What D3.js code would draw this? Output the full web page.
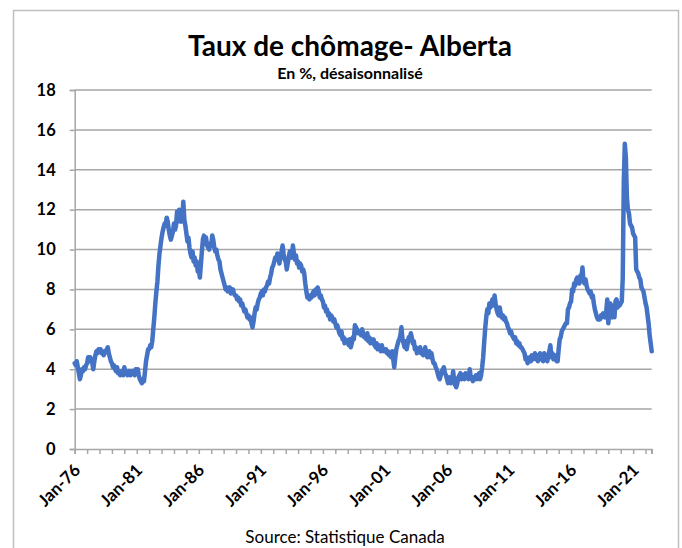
<!DOCTYPE html>
<html lang="fr">
<head>
<meta charset="utf-8">
<title>Taux de chômage- Alberta</title>
<script src="https://cdn.jsdelivr.net/npm/d3@7"></script>
<style>
  html, body { margin: 0; padding: 0; background: #fff; }
  svg { display: block; font-family: Lato, 'Open Sans', sans-serif; }
</style>
</head>
<body>
<div id="chart"></div>
<script>
// ── Data: Alberta unemployment rate, %, seasonally adjusted (monthly) ──
const START_YEAR = 1976;
const rate1976 = [4.3, 4.2, 4.4, 4.1, 3.8, 3.5, 3.7, 4.0, 3.9, 4.1, 4.0, 4.2];
const rate1977 = [4.3, 4.6, 4.4, 4.6, 4.5, 4.3, 4.0, 4.4, 4.7, 4.9, 4.8, 5.0];
const rate1978 = [4.9, 5.0, 4.8, 4.9, 4.7, 4.8, 4.9, 5.0, 5.1, 4.8, 4.6, 4.4];
const rate1979 = [4.3, 4.1, 4.2, 4.0, 3.9, 4.1, 3.8, 3.9, 3.7, 3.8, 3.9, 3.7];
const rate1980 = [4.1, 3.8, 3.9, 3.7, 3.8, 3.9, 3.7, 3.8, 3.9, 3.8, 3.7, 4.0];
const rate1981 = [3.8, 4.0, 3.7, 3.5, 3.4, 3.3, 3.5, 3.4, 3.9, 4.4, 4.7, 5.0];
const rate1982 = [5.0, 5.2, 5.1, 5.4, 6.0, 6.6, 7.3, 7.9, 8.4, 9.2, 9.8, 10.2];
const rate1983 = [10.6, 10.9, 11.1, 11.3, 11.2, 11.6, 11.4, 11.0, 10.7, 10.5, 10.7, 10.9];
const rate1984 = [11.3, 11.0, 11.2, 11.9, 11.4, 12.0, 11.6, 11.4, 11.6, 12.4, 11.5, 11.2];
const rate1985 = [10.8, 10.4, 10.6, 10.1, 9.8, 9.6, 9.9, 9.4, 9.6, 9.2, 9.4, 8.9];
const rate1986 = [9.0, 8.6, 9.2, 9.9, 10.5, 10.7, 10.3, 10.6, 10.2, 10.1, 10.0, 10.3];
const rate1987 = [10.2, 10.7, 10.5, 10.1, 9.9, 10.0, 9.7, 9.5, 9.4, 9.0, 8.8, 8.6];
const rate1988 = [8.4, 8.2, 8.0, 8.1, 7.9, 8.0, 8.1, 7.8, 7.9, 8.0, 7.8, 7.7];
const rate1989 = [7.7, 7.5, 7.6, 7.4, 7.5, 7.2, 7.3, 7.1, 6.9, 7.0, 6.8, 6.6];
const rate1990 = [6.7, 6.5, 6.6, 6.3, 6.1, 6.4, 6.8, 7.1, 7.0, 7.3, 7.5, 7.6];
const rate1991 = [7.8, 7.9, 7.7, 8.0, 7.9, 8.1, 8.2, 8.4, 8.3, 8.6, 8.8, 9.1];
const rate1992 = [9.2, 9.4, 9.6, 9.5, 9.8, 9.6, 9.3, 9.7, 9.9, 10.2, 9.8, 9.5];
const rate1993 = [9.4, 9.0, 9.3, 9.6, 9.9, 9.7, 9.6, 10.2, 9.8, 9.5, 9.7, 9.3];
const rate1994 = [9.4, 9.1, 9.3, 9.2, 8.9, 9.0, 8.8, 8.3, 7.9, 7.6, 7.7, 7.5];
const rate1995 = [7.7, 7.6, 7.8, 7.9, 7.7, 8.0, 7.8, 8.1, 7.9, 7.6, 7.7, 7.5];
const rate1996 = [7.4, 7.1, 7.2, 6.9, 7.0, 6.7, 6.8, 6.5, 6.7, 6.6, 6.4, 6.5];
const rate1997 = [6.3, 6.1, 6.2, 6.0, 5.8, 5.7, 5.9, 5.5, 5.6, 5.3, 5.5, 5.4];
const rate1998 = [5.4, 5.2, 5.5, 5.1, 5.3, 5.6, 5.5, 6.2, 6.1, 6.0, 5.8, 5.9];
const rate1999 = [5.9, 5.7, 6.0, 5.8, 5.6, 5.7, 5.5, 5.8, 5.4, 5.6, 5.3, 5.5];
const rate2000 = [5.3, 5.5, 5.2, 5.1, 5.3, 5.0, 5.2, 5.1, 4.9, 5.2, 5.0, 4.9];
const rate2001 = [4.9, 5.0, 4.8, 4.9, 4.7, 4.8, 4.6, 4.9, 4.5, 4.1, 4.6, 5.0];
const rate2002 = [5.2, 5.4, 5.5, 5.7, 6.1, 5.5, 5.3, 5.1, 5.4, 5.0, 5.3, 5.6];
const rate2003 = [5.5, 5.8, 5.6, 5.3, 5.4, 5.0, 5.1, 4.8, 5.0, 4.9, 5.1, 4.8];
const rate2004 = [4.8, 4.7, 4.9, 5.1, 4.8, 4.6, 4.7, 4.9, 4.6, 4.8, 4.5, 4.3];
const rate2005 = [4.3, 4.1, 4.0, 3.8, 3.6, 3.5, 3.7, 3.9, 4.0, 4.1, 3.8, 3.7];
const rate2006 = [3.5, 3.3, 3.6, 3.4, 3.3, 3.5, 3.9, 3.4, 3.2, 3.1, 3.3, 3.6];
const rate2007 = [3.7, 3.8, 3.5, 3.6, 3.7, 3.5, 3.8, 3.6, 3.7, 3.5, 4.0, 3.6];
const rate2008 = [3.6, 3.4, 3.6, 3.5, 3.7, 3.5, 3.6, 3.8, 3.5, 3.7, 4.1, 4.6];
const rate2009 = [5.4, 6.1, 6.6, 7.0, 6.8, 7.3, 7.1, 7.3, 7.5, 7.2, 7.7, 7.3];
const rate2010 = [7.0, 6.8, 6.7, 7.1, 6.8, 6.6, 6.7, 6.5, 6.6, 6.4, 6.3, 6.1];
const rate2011 = [6.0, 5.8, 5.9, 5.7, 5.6, 5.5, 5.6, 5.3, 5.4, 5.2, 5.3, 5.1];
const rate2012 = [5.1, 5.0, 4.9, 4.8, 4.5, 4.6, 4.3, 4.5, 4.6, 4.4, 4.7, 4.5];
const rate2013 = [4.6, 4.8, 4.5, 4.7, 4.4, 4.6, 4.8, 4.5, 4.7, 4.4, 4.8, 4.5];
const rate2014 = [4.6, 4.4, 4.7, 4.9, 5.2, 4.6, 4.8, 4.5, 4.7, 4.6, 4.4, 4.4];
const rate2015 = [5.0, 5.5, 5.6, 5.9, 6.0, 6.1, 6.2, 6.3, 6.3, 7.0, 7.1, 7.3];
const rate2016 = [7.4, 8.0, 7.9, 8.3, 8.2, 8.5, 8.6, 8.5, 8.3, 8.7, 8.6, 9.1];
const rate2017 = [8.4, 8.3, 8.5, 8.2, 8.0, 7.9, 7.8, 7.9, 7.6, 7.7, 7.3, 7.0];
const rate2018 = [6.8, 6.6, 6.5, 6.6, 6.5, 6.7, 6.6, 6.8, 6.7, 6.6, 6.9, 7.5];
const rate2019 = [6.3, 6.9, 7.3, 6.7, 6.6, 7.2, 6.6, 7.4, 7.5, 7.1, 7.3, 7.2];
const rate2020 = [7.3, 7.4, 8.6, 13.4, 15.3, 14.6, 12.6, 12.0, 11.8, 11.3, 11.2, 11.1];
const rate2021 = [10.8, 10.7, 10.6, 9.0, 8.9, 8.8, 8.6, 8.5, 8.1, 8.0, 7.9, 7.6];
const rate2022 = [7.3, 7.1, 6.7, 6.3, 5.7, 5.3, 4.9];

const yearlyRates = [
  rate1976, rate1977, rate1978, rate1979, rate1980, rate1981, rate1982, rate1983,
  rate1984, rate1985, rate1986, rate1987, rate1988, rate1989, rate1990, rate1991,
  rate1992, rate1993, rate1994, rate1995, rate1996, rate1997, rate1998, rate1999,
  rate2000, rate2001, rate2002, rate2003, rate2004, rate2005, rate2006, rate2007,
  rate2008, rate2009, rate2010, rate2011, rate2012, rate2013, rate2014, rate2015,
  rate2016, rate2017, rate2018, rate2019, rate2020, rate2021, rate2022
];

const yTicks      = [0, 2, 4, 6, 8, 10, 12, 14, 16, 18];
const labelYears  = [1976, 1981, 1986, 1991, 1996, 2001, 2006, 2011, 2016, 2021];

const TITLE    = 'Taux de chômage- Alberta';
const SUBTITLE = 'En %, désaisonnalisé';
const SOURCE   = 'Source: Statistique Canada';

// ── Layout ──
const W = 682, H = 548;
const M = { left: 74.7, right: 651.7, top: 90, bottom: 449 };
const LINE_BLUE = '#4472c4';
const GRID_GREY = '#a6a6a6';

const series = [];
yearlyRates.forEach((arr, i) => {
  arr.forEach((v, m) => series.push({ date: new Date(START_YEAR + i, m, 1), value: v }));
});

const svg = d3.select('#chart').append('svg')
  .attr('width', W)
  .attr('height', H);

// outer chart frame
svg.append('rect')
  .attr('x', 13.5).attr('y', 10.5)
  .attr('width', 665).attr('height', 560)
  .attr('fill', '#fff')
  .attr('stroke', '#bfbfbf')
  .attr('stroke-width', 1.5);

const x = d3.scaleTime()
  .domain(d3.extent(series, d => d.date))
  .range([M.left, M.right]);

const y = d3.scaleLinear()
  .domain([0, 18])
  .range([M.bottom, M.top]);

// ── Titles ──
svg.append('text')
  .attr('x', 350).attr('y', 56)
  .attr('text-anchor', 'middle')
  .attr('font-size', 28).attr('font-weight', 700)
  .attr('fill', '#000')
  .text(TITLE);

svg.append('text')
  .attr('x', 350).attr('y', 79)
  .attr('text-anchor', 'middle')
  .attr('font-size', 16).attr('font-weight', 700)
  .attr('fill', '#000')
  .text(SUBTITLE);

// ── Grid ──
svg.append('g')
  .selectAll('line').data(yTicks.filter(t => t > 0)).join('line')
  .attr('x1', M.left).attr('x2', M.right)
  .attr('y1', d => y(d)).attr('y2', d => y(d))
  .attr('stroke', GRID_GREY).attr('stroke-width', 1.5);

// ── Y axis ──
const yAxis = svg.append('g')
  .attr('transform', `translate(${M.left},0)`)
  .call(d3.axisLeft(y).tickValues(yTicks).tickSize(5).tickPadding(14).tickFormat(d3.format('d')));
yAxis.select('.domain').attr('stroke', GRID_GREY).attr('stroke-width', 1.5);
yAxis.selectAll('.tick line').attr('stroke', GRID_GREY).attr('stroke-width', 1.5);
yAxis.selectAll('.tick text')
  .attr('font-family', "Lato, 'Open Sans', sans-serif")
  .attr('font-size', 16.5).attr('font-weight', 700).attr('fill', '#000');

// ── X axis: minor ticks every year, labels every five years ──
const xAxis = svg.append('g')
  .attr('transform', `translate(0,${M.bottom})`)
  .call(d3.axisBottom(x)
    .tickValues(d3.timeYear.range(new Date(START_YEAR, 0, 1), new Date(2023, 0, 1)).filter(d => d <= x.domain()[1]))
    .tickSize(5)
    .tickFormat(d => labelYears.includes(d.getFullYear()) ? d3.timeFormat('%b-%y')(d) : ''));
xAxis.select('.domain').attr('stroke', GRID_GREY).attr('stroke-width', 1.5);
xAxis.selectAll('.tick line').attr('stroke', GRID_GREY).attr('stroke-width', 1.5);
xAxis.selectAll('.tick text')
  .attr('font-family', "Lato, 'Open Sans', sans-serif")
  .attr('font-size', 17).attr('font-weight', 700).attr('fill', '#000')
  .attr('text-anchor', 'end')
  .attr('transform', 'translate(2,18) rotate(-45)')
  .attr('y', 0).attr('dy', '0.35em');

// end tick at the right edge of the axis
svg.append('line')
  .attr('x1', M.right).attr('x2', M.right)
  .attr('y1', M.bottom).attr('y2', M.bottom + 5)
  .attr('stroke', GRID_GREY).attr('stroke-width', 1.5);

// ── Series line ──
const line = d3.line()
  .x(d => x(d.date))
  .y(d => y(d.value));

svg.append('path')
  .datum(series)
  .attr('fill', 'none')
  .attr('stroke', LINE_BLUE)
  .attr('stroke-width', 4.5)
  .attr('stroke-linejoin', 'round')
  .attr('stroke-linecap', 'round')
  .attr('d', line);

// ── Source ──
svg.append('text')
  .attr('x', 345).attr('y', 543)
  .attr('text-anchor', 'middle')
  .attr('font-size', 17)
  .attr('fill', '#000')
  .text(SOURCE);
</script>
</body>
</html>
